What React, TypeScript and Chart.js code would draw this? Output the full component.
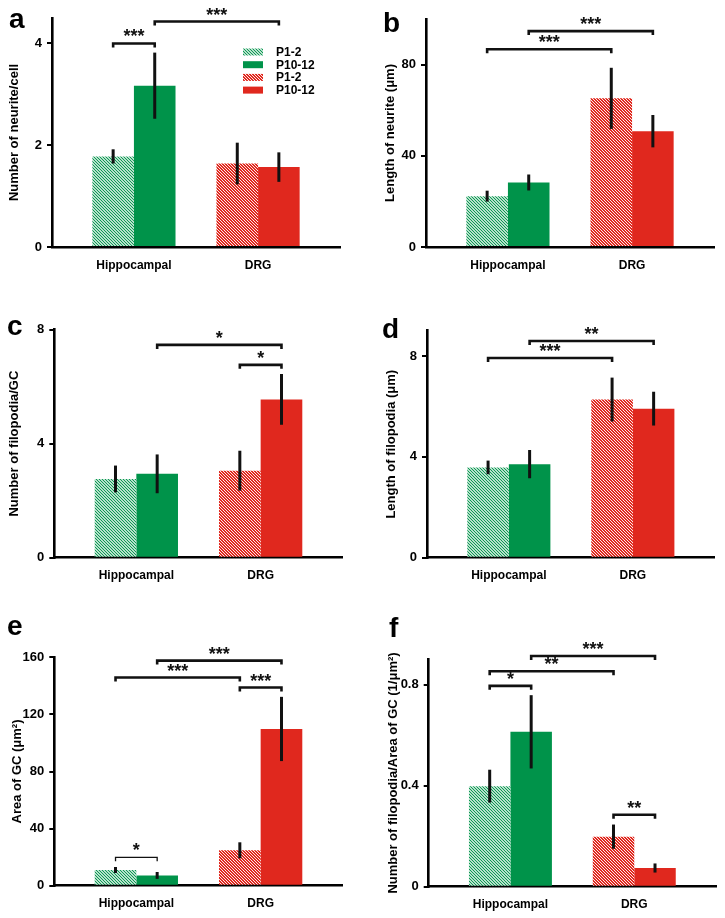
import React, { useEffect, useRef } from 'react';
import { Chart, registerables } from 'chart.js';

Chart.register(...registerables);

// ---------------- DATA ----------------
const categories = ['Hippocampal', 'DRG'];
const groupLabels = ['P1-2', 'P10-12'];

// a: Number of neurite/cell
const neuriteCountP1 = [1.78, 1.64];
const neuriteCountP10 = [3.17, 1.57];
const neuriteCountP1Err = [0.14, 0.41];
const neuriteCountP10Err = [0.65, 0.29];
const neuriteCountTicks = [0, 2, 4];
const neuriteCountMax = 4.5;
const neuriteCountSig = [
  { a: 0, b: 1, y: 4.0, text: '***' },
  { a: 1, b: 3, y: 4.43, text: '***' },
];

// b: Length of neurite (μm)
const neuriteLengthP1 = [22.3, 65.2];
const neuriteLengthP10 = [28.3, 50.8];
const neuriteLengthP1Err = [2.4, 13.4];
const neuriteLengthP10Err = [3.5, 7.1];
const neuriteLengthTicks = [0, 40, 80];
const neuriteLengthMax = 100;
const neuriteLengthSig = [
  { a: 0, b: 2, y: 86.7, text: '***' },
  { a: 1, b: 3, y: 94.7, text: '***' },
];

// c: Number of filopodia/GC
const filoCountP1 = [2.76, 3.05];
const filoCountP10 = [2.94, 5.55];
const filoCountP1Err = [0.47, 0.7];
const filoCountP10Err = [0.68, 0.89];
const filoCountTicks = [0, 4, 8];
const filoCountMax = 8;
const filoCountSig = [
  { a: 1, b: 3, y: 7.46, text: '*' },
  { a: 2, b: 3, y: 6.76, text: '*' },
];

// d: Length of filopodia (μm)
const filoLengthP1 = [3.58, 6.27];
const filoLengthP10 = [3.71, 5.91];
const filoLengthP1Err = [0.27, 0.87];
const filoLengthP10Err = [0.56, 0.67];
const filoLengthTicks = [0, 4, 8];
const filoLengthMax = 9;
const filoLengthSig = [
  { a: 0, b: 2, y: 7.92, text: '***' },
  { a: 1, b: 3, y: 8.59, text: '**' },
];

// e: Area of GC (μm²)
const gcAreaP1 = [11.0, 24.8];
const gcAreaP10 = [7.2, 109.8];
const gcAreaP1Err = [2.1, 5.6];
const gcAreaP10Err = [2.4, 22.5];
const gcAreaTicks = [0, 40, 80, 120, 160];
const gcAreaMax = 160;
const gcAreaSig = [
  { a: 0, b: 1, y: 19.9, text: '*' },
  { a: 0, b: 2, y: 145.8, text: '***' },
  { a: 1, b: 3, y: 157.7, text: '***' },
  { a: 2, b: 3, y: 138.8, text: '***' },
];

// f: Number of filopodia/Area of GC (1/μm²)
const filoDensityP1 = [0.398, 0.198];
const filoDensityP10 = [0.613, 0.074];
const filoDensityP1Err = [0.065, 0.048];
const filoDensityP10Err = [0.145, 0.018];
const filoDensityTicks = [0, 0.4, 0.8];
const filoDensityMax = 0.9;
const filoDensitySig = [
  { a: 0, b: 1, y: 0.795, text: '*' },
  { a: 0, b: 2, y: 0.853, text: '**' },
  { a: 1, b: 3, y: 0.913, text: '***' },
  { a: 2, b: 3, y: 0.285, text: '**' },
];

// ---------------- STYLE / LAYOUT ----------------
const GREEN = '#00934A';
const RED = '#E0281E';
const FONT = 'Arial, "Liberation Sans", Helvetica, sans-serif';

const panels = [
  {
    letter: 'a', title: 'Number of neurite/cell',
    p1: neuriteCountP1, p10: neuriteCountP10, p1Err: neuriteCountP1Err, p10Err: neuriteCountP10Err,
    ticks: neuriteCountTicks, max: neuriteCountMax, sig: neuriteCountSig,
    box: { x: 0, y: 0, w: 362, h: 290 }, area: { l: 52, t: 18, r: 340, b: 247 },
    titlePad: 7, letterPos: [9, 28], legend: true, thin: [],
  },
  {
    letter: 'b', title: 'Length of neurite (μm)',
    p1: neuriteLengthP1, p10: neuriteLengthP10, p1Err: neuriteLengthP1Err, p10Err: neuriteLengthP10Err,
    ticks: neuriteLengthTicks, max: neuriteLengthMax, sig: neuriteLengthSig,
    box: { x: 362, y: 0, w: 363, h: 290 }, area: { l: 64, t: 19, r: 352, b: 247 },
    titlePad: 21, letterPos: [21, 32], legend: false, thin: [],
  },
  {
    letter: 'c', title: 'Number of filopodia/GC',
    p1: filoCountP1, p10: filoCountP10, p1Err: filoCountP1Err, p10Err: filoCountP10Err,
    ticks: filoCountTicks, max: filoCountMax, sig: filoCountSig,
    box: { x: 0, y: 290, w: 362, h: 310 }, area: { l: 54.3, t: 39.5, r: 342.7, b: 267.7 },
    titlePad: 7, letterPos: [7, 45], legend: false, thin: [],
  },
  {
    letter: 'd', title: 'Length of filopodia (μm)',
    p1: filoLengthP1, p10: filoLengthP10, p1Err: filoLengthP1Err, p10Err: filoLengthP10Err,
    ticks: filoLengthTicks, max: filoLengthMax, sig: filoLengthSig,
    box: { x: 362, y: 290, w: 363, h: 310 }, area: { l: 65, t: 40.7, r: 352.7, b: 267.7 },
    titlePad: 21.5, letterPos: [20, 48], legend: false, thin: [],
  },
  {
    letter: 'e', title: 'Area of GC (μm²)',
    p1: gcAreaP1, p10: gcAreaP10, p1Err: gcAreaP1Err, p10Err: gcAreaP10Err,
    ticks: gcAreaTicks, max: gcAreaMax, sig: gcAreaSig,
    box: { x: 0, y: 600, w: 362, h: 318 }, area: { l: 54.3, t: 57.3, r: 342.7, b: 285.7 },
    titlePad: 10, letterPos: [7, 35], legend: false, thin: [0],
  },
  {
    letter: 'f', title: 'Number of filopodia/Area of GC (1/μm²)',
    p1: filoDensityP1, p10: filoDensityP10, p1Err: filoDensityP1Err, p10Err: filoDensityP10Err,
    ticks: filoDensityTicks, max: filoDensityMax, sig: filoDensitySig,
    box: { x: 362, y: 600, w: 363, h: 318 }, area: { l: 66.7, t: 59.3, r: 354, b: 286.7 },
    titlePad: 24, letterPos: [27, 37], legend: false, thin: [],
  },
];

function makeHatch(ctx: CanvasRenderingContext2D, bg: string, fg: string, lw: number) {
  const s = 3;
  const tile = document.createElement('canvas');
  tile.width = s;
  tile.height = s;
  const t = tile.getContext('2d')!;
  t.fillStyle = bg;
  t.fillRect(0, 0, s, s);
  t.strokeStyle = fg;
  t.lineWidth = lw;
  t.beginPath();
  for (let k = -1; k <= 1; k++) {
    t.moveTo(k * s - 1, -1);
    t.lineTo(k * s + s + 1, s + 1);
  }
  t.stroke();
  return ctx.createPattern(tile, 'repeat');
}

function PanelChart({ panel }: { panel: any }) {
  const ref = useRef<HTMLCanvasElement>(null);

  useEffect(() => {
    const canvas = ref.current!;
    const ctx = canvas.getContext('2d')!;
    const greenHatch = makeHatch(ctx, '#ffffff', GREEN, 1.1);
    const redHatch = makeHatch(ctx, RED, '#ffffff', 0.9);
    const fills = [[greenHatch, GREEN], [redHatch, RED]];
    const vals = [panel.p1, panel.p10];
    const errs = [panel.p1Err, panel.p10Err];
    const { box, area } = panel;

    const datasets: any[] = [];
    categories.forEach((_, c) => {
      groupLabels.forEach((g, gi) => {
        datasets.push({
          label: g,
          data: categories.map((__, i) => ({ x: i, y: i === c ? vals[gi][i] : null })),
          backgroundColor: fills[c][gi],
          borderWidth: 0,
          categoryPercentage: 0.67,
          barPercentage: 1,
          skipNull: true,
        });
      });
    });

    const barX = (chart: any, d: number) => {
      const c = Math.floor(d / 2);
      return chart.getDatasetMeta(d).data[c].x;
    };

    const overlay = {
      id: 'overlay',
      afterDatasetsDraw(chart: any) {
        const c2 = chart.ctx;
        const yS = chart.scales.y;
        c2.save();
        c2.strokeStyle = '#111';
        c2.lineWidth = 3;
        c2.lineCap = 'butt';
        for (let d = 0; d < 4; d++) {
          const c = Math.floor(d / 2);
          const g = d % 2;
          const x = barX(chart, d);
          const v = vals[g][c];
          const e = errs[g][c];
          c2.beginPath();
          c2.moveTo(x, yS.getPixelForValue(v + e));
          c2.lineTo(x, yS.getPixelForValue(v - e));
          c2.stroke();
        }
        c2.restore();
      },
      afterDraw(chart: any) {
        const c2 = chart.ctx;
        const yS = chart.scales.y;
        c2.save();
        // significance brackets
        panel.sig.forEach((s: any, i: number) => {
          const xa = barX(chart, s.a);
          const xb = barX(chart, s.b);
          const y = yS.getPixelForValue(s.y);
          const thin = panel.thin.includes(i);
          c2.strokeStyle = '#111';
          c2.lineWidth = thin ? 1.3 : 2.6;
          c2.beginPath();
          c2.moveTo(xa, y + 4);
          c2.lineTo(xa, y);
          c2.lineTo(xb, y);
          c2.lineTo(xb, y + 4);
          c2.stroke();
          c2.fillStyle = '#111';
          c2.font = `bold 18px ${FONT}`;
          c2.textAlign = 'center';
          c2.textBaseline = 'alphabetic';
          c2.fillText(s.text, (xa + xb) / 2, y - 1);
        });
        // panel letter
        c2.fillStyle = '#000';
        c2.font = `bold 28px ${FONT}`;
        c2.textAlign = 'left';
        c2.textBaseline = 'alphabetic';
        c2.fillText(panel.letter, panel.letterPos[0], panel.letterPos[1]);
        // legend
        if (panel.legend) {
          const ca = chart.chartArea;
          const sx = ca.left + 191;
          const y0 = 52;
          chart.data.datasets.forEach((ds: any, i: number) => {
            const cy = y0 + i * 12.7;
            c2.fillStyle = ds.backgroundColor;
            c2.fillRect(sx, cy - 3.5, 20, 7);
            c2.fillStyle = '#000';
            c2.font = `bold 12px ${FONT}`;
            c2.textAlign = 'left';
            c2.textBaseline = 'middle';
            c2.fillText(ds.label, sx + 33, cy + 0.5);
          });
        }
        c2.restore();
      },
    };

    const chart = new Chart(canvas, {
      type: 'bar',
      data: { datasets },
      plugins: [overlay],
      options: {
        responsive: false,
        animation: false,
        events: [],
        layout: {
          autoPadding: false,
          padding: { left: 0, top: area.t, right: box.w - area.r, bottom: 0 },
        },
        plugins: {
          legend: { display: false },
          tooltip: { enabled: false },
          title: { display: false },
        },
        scales: {
          x: {
            type: 'linear',
            min: -0.66,
            max: 1.66,
            offset: false,
            afterBuildTicks: (s: any) => {
              s.ticks = categories.map((_, i) => ({ value: i }));
            },
            afterFit: (s: any) => {
              s.height = box.h - area.b;
            },
            ticks: {
              autoSkip: false,
              maxRotation: 0,
              minRotation: 0,
              padding: 11,
              color: '#000',
              font: { family: FONT, size: 12, weight: 'bold' },
              callback: (v: any) => categories[v] ?? '',
            },
            grid: { display: false, drawOnChartArea: false, drawTicks: false },
            border: { display: true, color: '#000', width: 2.6 },
          },
          y: {
            type: 'linear',
            min: 0,
            max: panel.max,
            afterBuildTicks: (s: any) => {
              s.ticks = panel.ticks.map((v: number) => ({ value: v }));
            },
            afterFit: (s: any) => {
              s.width = area.l;
            },
            ticks: {
              padding: 5,
              color: '#000',
              font: { family: FONT, size: 13, weight: 'bold' },
              callback: (v: any) => String(v),
            },
            grid: {
              display: true,
              drawOnChartArea: false,
              drawTicks: true,
              tickLength: 5,
              color: '#000',
              lineWidth: 2,
            },
            border: { display: true, color: '#000', width: 2.6 },
            title: {
              display: true,
              text: panel.title,
              color: '#000',
              font: { family: FONT, size: 13, weight: 'bold' },
              padding: { top: panel.titlePad, bottom: 0 },
            },
          },
        },
      } as any,
    });
    return () => chart.destroy();
  }, [panel]);

  return (
    <canvas
      ref={ref}
      width={panel.box.w}
      height={panel.box.h}
      style={{
        position: 'absolute',
        left: panel.box.x,
        top: panel.box.y,
        width: panel.box.w,
        height: panel.box.h,
      }}
    />
  );
}

export default function App() {
  useEffect(() => {
    document.body.style.margin = '0';
    document.body.style.overflow = 'hidden';
    document.body.style.background = '#fff';
  }, []);
  return (
    <div style={{ position: 'absolute', left: 0, top: 0, width: 725, height: 918, background: '#fff' }}>
      {panels.map((p) => (
        <PanelChart key={p.letter} panel={p} />
      ))}
    </div>
  );
}
